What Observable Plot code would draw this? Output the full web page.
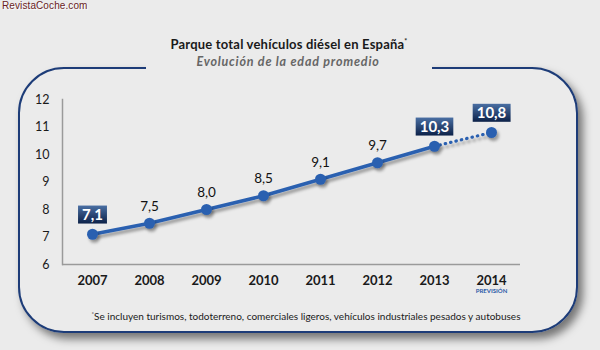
<!DOCTYPE html>
<html><head><meta charset="utf-8">
<script src="https://cdn.jsdelivr.net/npm/d3@7"></script>
<script src="https://cdn.jsdelivr.net/npm/@observablehq/plot@0.6"></script>
<style>
body{margin:0;background:#ebebeb;}
#wrap{position:relative;width:600px;height:350px;background:#ebebeb;overflow:hidden;}
#frame{position:absolute;left:18px;top:67px;width:560px;height:266px;border:2.5px solid #1d3c78;border-radius:46px;box-shadow:5px 6px 9px rgba(0,0,0,0.5);box-sizing:border-box;}
#gap{position:absolute;left:146px;top:58px;width:286px;height:18px;background:#ebebeb;}
#chart{position:absolute;left:0;top:0;}
#wm{position:absolute;left:2px;top:0px;font:10px "Liberation Sans",Arial,sans-serif;color:#6a1d24;text-shadow:1px 1px 1px #fff;letter-spacing:0.1px;}
#title{position:absolute;left:0;width:578px;top:36px;text-align:center;font:bold 13px Lato,"DejaVu Sans",sans-serif;letter-spacing:0.2px;color:#1a1a1a;}
#title sup{font-size:7px;vertical-align:5px;}
#sub{position:absolute;left:0;width:576px;top:54px;text-align:center;font:italic bold 12.5px Lato,"DejaVu Sans",sans-serif;letter-spacing:0.8px;color:#666;}
#foot{position:absolute;left:0;width:612px;top:310px;text-align:center;font:10px Lato,"Open Sans",sans-serif;color:#1a1a1a;}
#foot sup{font-size:6px;vertical-align:4px;}
</style>
</head><body>
<div id="wrap">
  <div id="frame"></div>
  <div id="gap"></div>
  <div id="chart"></div>
  <div id="wm">RevistaCoche.com</div>
  <div id="title">Parque total vehículos diésel en España<sup>*</sup></div>
  <div id="sub">Evolución de la edad promedio</div>
  <div id="foot"><sup>*</sup>Se incluyen turismos, todoterreno, comerciales ligeros, vehículos industriales pesados y autobuses</div>
</div>
<script>
const years = ["2007","2008","2009","2010","2011","2012","2013","2014"];
const ages = [7.1, 7.5, 8.0, 8.5, 9.1, 9.7, 10.3, 10.8];
const boxedYears = ["2007","2013","2014"];
const forecastYears = ["2013","2014"];
const forecastNote = ["PREVISIÓN"];
const forecastNoteYear = ["2014"];
const yTicks = [6, 7, 8, 9, 10, 11, 12];

const rows = years.map((y, i) => ({year: y, age: ages[i], boxed: boxedYears.includes(y)}));
const actual = rows.filter(d => +d.year <= 2013);
const forecast = rows.filter(d => forecastYears.includes(d.year));
const fmt = d => d.age.toFixed(1).replace(".", ",");
const blue = "#2c61b0";

const plot = Plot.plot({
  width: 600, height: 350,
  marginLeft: 62, marginRight: 80, marginTop: 99, marginBottom: 86,
  style: {background: "transparent", fontFamily: "Lato, 'Open Sans', sans-serif", color: "#1a1a1a", overflow: "visible"},
  x: {type: "point", domain: years, padding: 0.5, label: null},
  y: {domain: [6, 12], label: null},
  marks: [
    Plot.ruleY([6], {stroke: "#9a9a9a", strokeWidth: 1.5}),
    Plot.frame({anchor: "left", stroke: "#9a9a9a", strokeWidth: 1.5}),
    Plot.axisY(yTicks, {tickSize: 0, tickPadding: 13, fontSize: 12.5, fill: "#1a1a1a"}),
    Plot.axisX({tickSize: 0, tickPadding: 11, fontSize: 13, fontWeight: "bold", fill: "#1a1a1a"}),
    Plot.text(forecastNoteYear, {x: d => d, frameAnchor: "bottom", dy: 28, text: forecastNote, fontSize: 6, fontWeight: "bold", fill: "#2a5aa8"}),
    Plot.line(forecast, {x: "year", y: "age", stroke: blue, strokeWidth: 3.2, strokeDasharray: "0.5,5", strokeLinecap: "round"}),
    Plot.line(actual, {x: "year", y: "age", stroke: blue, strokeWidth: 3.5}),
    Plot.dot(rows, {x: "year", y: "age", r: 5.5, fill: blue}),
    Plot.text(rows.filter(d => !d.boxed), {x: "year", y: "age", text: fmt, dy: -17, fontSize: 13.5, fill: "#111"}),
    Plot.text(rows.filter(d => d.boxed), {x: "year", y: "age", text: fmt, dy: -19, fontSize: 15, fontWeight: "bold", fill: "white"})
  ]
});
document.getElementById("chart").appendChild(plot);

// decorations: gradient boxes behind highlighted labels, soft shadow on series
const svg = d3.select(plot);
const defs = svg.insert("defs", ":first-child");
const g = defs.append("linearGradient").attr("id", "boxgrad").attr("x1", 0).attr("y1", 0).attr("x2", 0).attr("y2", 1);
g.append("stop").attr("offset", "0%").attr("stop-color", "#4a6fa3");
g.append("stop").attr("offset", "100%").attr("stop-color", "#0c2148");
const f = defs.append("filter").attr("id", "sh").attr("x", "-20%").attr("y", "-20%").attr("width", "140%").attr("height", "160%");
f.append("feDropShadow").attr("dx", 2).attr("dy", 3).attr("stdDeviation", 1.6).attr("flood-color", "#000").attr("flood-opacity", 0.35);

const textGroups = plot.querySelectorAll('g[aria-label="text"]');
const boxedGroup = textGroups[textGroups.length - 1];
boxedGroup.querySelectorAll("text").forEach(t => {
  const bb = t.getBBox();
  const r = document.createElementNS("http://www.w3.org/2000/svg", "rect");
  r.setAttribute("x", bb.x - 4);
  r.setAttribute("y", bb.y + 0.5);
  r.setAttribute("width", bb.width + 8);
  r.setAttribute("height", bb.height - 0);
  r.setAttribute("fill", "url(#boxgrad)");
  if (t.getAttribute("transform")) r.setAttribute("transform", t.getAttribute("transform"));
  t.parentNode.insertBefore(r, t);
});
plot.querySelectorAll('g[aria-label="line"], g[aria-label="dot"]').forEach(n => n.setAttribute("filter", "url(#sh)"));
</script>
</body></html>
